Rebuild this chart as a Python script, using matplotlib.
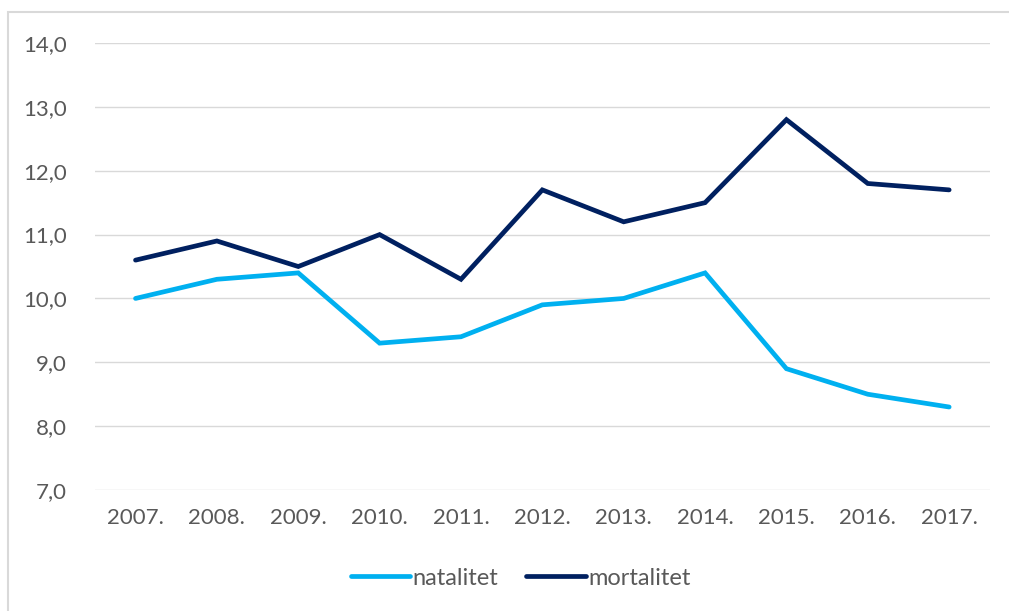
import matplotlib.pyplot as plt
from matplotlib.patches import Rectangle

# data
years = ['2007.', '2008.', '2009.', '2010.', '2011.', '2012.',
         '2013.', '2014.', '2015.', '2016.', '2017.']
natalitet = [10.0, 10.3, 10.4, 9.3, 9.4, 9.9, 10.0, 10.4, 8.9, 8.5, 8.3]
mortalitet = [10.6, 10.9, 10.5, 11.0, 10.3, 11.7, 11.2, 11.5, 12.8, 11.8, 11.7]
y_ticks = [7, 8, 9, 10, 11, 12, 13, 14]

plt.rcParams['font.family'] = ['Lato', 'DejaVu Sans']
text_color = '#595959'

fig = plt.figure(figsize=(10.09, 6.11), dpi=100)
ax = fig.add_axes([0.094, 0.198, 0.887, 0.7316])

x = range(len(years))
ax.plot(x, natalitet, color='#00B0F0', lw=3.4, label='natalitet',
        solid_capstyle='round', solid_joinstyle='miter')
ax.plot(x, mortalitet, color='#002060', lw=3.4, label='mortalitet',
        solid_capstyle='round', solid_joinstyle='miter')

ax.set_xlim(-0.5, len(years) - 0.5)
ax.set_ylim(7, 14)
ax.set_yticks(y_ticks)
ax.set_yticklabels([f'{v:.1f}'.replace('.', ',') for v in y_ticks])
ax.set_xticks(list(x))
ax.set_xticklabels(years)
ax.grid(axis='y', color='#D9D9D9', lw=1)
ax.set_axisbelow(True)
for s in ax.spines.values():
    s.set_visible(False)
ax.tick_params(length=0, labelsize=16, colors=text_color)
ax.tick_params(axis='x', pad=13)
ax.tick_params(axis='y', pad=20)

leg = fig.legend(loc='center', bbox_to_anchor=(0.516, 0.054), ncol=2,
                 frameon=False, fontsize=17, handlelength=2.5,
                 handletextpad=0.12, columnspacing=1.2)
for t in leg.get_texts():
    t.set_color(text_color)

# light frame around the chart (partly cropped like the reference)
fig.patches.append(Rectangle((8 / 1009, -0.05), 1.1, 1 - 12 / 611 + 0.05,
                             transform=fig.transFigure, fill=False,
                             edgecolor='#D9D9D9', lw=1.5))

fig.savefig('out.png', dpi=100)
